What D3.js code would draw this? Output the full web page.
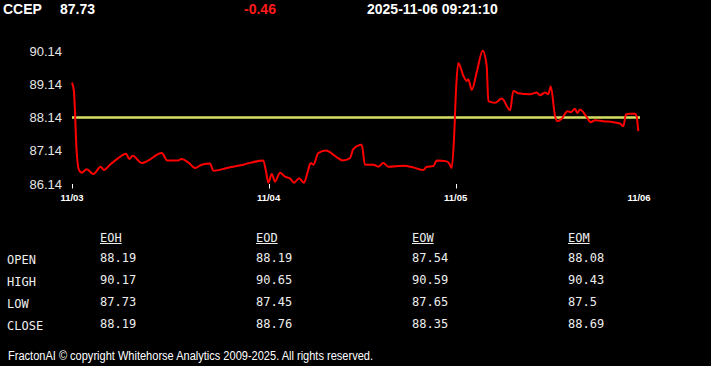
<!DOCTYPE html>
<html>
<head>
<meta charset="utf-8">
<script src="https://cdn.jsdelivr.net/npm/d3@7"></script>
<style>
  html, body { margin: 0; padding: 0; background: #000; }
  svg { display: block; }
</style>
</head>
<body>
<svg id="chart" width="711" height="366"></svg>
<script>
// ---- data ----
const symbol = "CCEP";
const lastPrice = "87.73";
const priceChange = "-0.46";
const timestamp = "2025-11-06 09:21:10";

// intraday sample index (0 = 11/03 open, 300 = latest) and price
const times = [0, 1, 2.5, 3.7, 5.1, 7.8, 11.3, 15.2, 16.9, 20.1, 24.5, 28.6, 30.3, 32.1, 36.9, 39.5,
  47.5, 50.4, 56.2, 58.0, 61.5, 65.1, 68.6, 73.0, 74.8, 81.9, 90.6, 101.2, 102.5, 103.9, 105.7,
  107.4, 110.1, 112.7, 115.3, 117.5, 120.1, 122.8, 124.5, 126.3, 127.7, 130.3, 134.4, 140.0,
  143.2, 147.1, 148.8, 153.3, 155.0, 159.4, 162.1, 164.7, 167.4, 175.3, 180.6, 185.9, 187.7,
  191.2, 193.0, 198.3, 199.6, 200.9, 202.1, 203.2, 204.4, 207.1, 208.8, 209.7, 211.5, 214.1,
  217.3, 219.4, 220.3, 223.8, 227.4, 231.8, 233.5, 236.2, 242.3, 245.9, 247.6, 250.3, 252.0,
  253.3, 255.6, 256.8, 259.1, 262.1, 263.9, 266.1, 267.4, 268.8, 272.0, 274.5, 276.7, 281.1,
  286.4, 289.9, 291.7, 293.1, 295.2, 297.9, 298.8, 299.6];
const prices = [89.19, 88.94, 87.08, 86.56, 86.48, 86.58, 86.44, 86.66, 86.56, 86.72, 86.92, 87.05,
  86.89, 86.99, 86.77, 86.82, 87.07, 86.85, 86.85, 86.89, 86.79, 86.62, 86.72, 86.76, 86.54,
  86.62, 86.72, 86.85, 86.56, 86.18, 86.44, 86.21, 86.48, 86.36, 86.31, 86.18, 86.31, 86.18,
  86.46, 86.77, 86.72, 87.07, 87.15, 86.95, 86.85, 86.92, 87.19, 87.32, 86.72, 86.72, 86.66,
  86.77, 86.66, 86.69, 86.64, 86.56, 86.66, 86.68, 86.85, 86.82, 86.75, 86.62, 87.47, 88.99,
  89.78, 89.39, 89.24, 89.29, 88.97, 89.49, 90.15, 89.69, 88.63, 88.58, 88.71, 88.36, 88.94,
  88.87, 88.84, 88.89, 88.81, 88.89, 88.84, 89.07, 88.18, 88.03, 88.10, 88.33, 88.30, 88.40,
  88.28, 88.38, 88.18, 88.00, 88.06, 88.03, 88.00, 87.96, 87.88, 88.23, 88.25, 88.25, 88.16, 87.73];
const refLevel = 88.14;

const yTicks = [86.14, 87.14, 88.14, 89.14, 90.14];
const dayTickPos = [0, 104, 203, 300];
const dayLabels = ["11/03", "11/04", "11/05", "11/06"];
const dayTickMarks = [0, 104, 203];

const periods = ["EOH", "EOD", "EOW", "EOM"];
const rowLabels = ["OPEN", "HIGH", "LOW", "CLOSE"];
const openVals  = ["88.19", "88.19", "87.54", "88.08"];
const highVals  = ["90.17", "90.65", "90.59", "90.43"];
const lowVals   = ["87.73", "87.45", "87.65", "87.5"];
const closeVals = ["88.19", "88.76", "88.35", "88.69"];

const footer = "FractonAI \u00A9 copyright Whitehorse Analytics 2009-2025. All rights reserved.";

// ---- drawing ----
const svg = d3.select("#chart");
svg.append("rect").attr("width", 711).attr("height", 366).attr("fill", "#000");

const headFont = "'Liberation Sans', Arial, sans-serif";
// header
svg.append("text").attr("x", 3).attr("y", 14).text(symbol)
  .attr("font-family", headFont).attr("font-weight", "bold").attr("font-size", 14).attr("fill", "#fff");
svg.append("text").attr("x", 60).attr("y", 14).text(lastPrice)
  .attr("font-family", headFont).attr("font-weight", "bold").attr("font-size", 14).attr("fill", "#fff");
svg.append("text").attr("x", 260).attr("y", 14).attr("text-anchor", "middle").text(priceChange)
  .attr("font-family", headFont).attr("font-weight", "bold").attr("font-size", 14).attr("fill", "#ff1a1a");
svg.append("text").attr("x", 367).attr("y", 14).text(timestamp)
  .attr("font-family", headFont).attr("font-weight", "bold").attr("font-size", 14).attr("fill", "#fff");

// scales
const x = d3.scaleLinear().domain([0, 300]).range([72, 639]);
const y = d3.scaleLinear().domain([86.14, 90.14]).range([184, 51]);

// y labels
svg.append("g").selectAll("text").data(yTicks).join("text")
  .attr("x", 62).attr("y", d => y(d)).attr("dy", "0.36em")
  .attr("text-anchor", "end")
  .attr("font-family", headFont).attr("font-size", 13).attr("fill", "#e6e6e6")
  .text(d => d.toFixed(2));

// x tick marks and labels
svg.append("g").selectAll("line").data(dayTickMarks).join("line")
  .attr("x1", d => Math.round(x(d)) + 0.5).attr("x2", d => Math.round(x(d)) + 0.5)
  .attr("y1", 184).attr("y2", 188.5)
  .attr("stroke", "#fff").attr("stroke-width", 1);
svg.append("g").selectAll("text").data(dayTickPos).join("text")
  .attr("x", d => x(d)).attr("y", 201)
  .attr("text-anchor", "middle")
  .attr("font-family", headFont).attr("font-size", 9.5).attr("font-weight", "bold").attr("fill", "#fff")
  .text((d, i) => dayLabels[i]);

// reference line
svg.append("line")
  .attr("x1", x(0)).attr("x2", x(300) + 1)
  .attr("y1", y(refLevel)).attr("y2", y(refLevel))
  .attr("stroke", "#d7e063").attr("stroke-width", 2.5);

// price line
const pts = times.map((t, i) => [t, prices[i]]);
svg.append("path").datum(pts)
  .attr("fill", "none").attr("stroke", "#ff0000").attr("stroke-width", 2)
  .attr("stroke-linejoin", "round")
  .attr("d", d3.line().x(d => x(d[0])).y(d => y(d[1])).curve(d3.curveMonotoneX));

// table
const monoFont = "'DejaVu Sans Mono', 'Liberation Mono', monospace";
const colX = d3.scalePoint().domain(periods).range([100, 568]);
const rowY = d3.scalePoint().domain(rowLabels).range([261.5, 327.5]);
const tableVals = [openVals, highVals, lowVals, closeVals];

const heads = svg.append("g").selectAll("g").data(periods).join("g");
heads.append("text")
  .attr("x", d => colX(d)).attr("y", 241.5)
  .attr("font-family", monoFont).attr("font-size", 12).attr("fill", "#eee")
  .text(d => d);
heads.append("line")
  .attr("x1", d => colX(d)).attr("x2", d => colX(d) + d.length * 7.22)
  .attr("y1", 243.5).attr("y2", 243.5)
  .attr("stroke", "#eee").attr("stroke-width", 1);

svg.append("g").selectAll("text").data(rowLabels).join("text")
  .attr("x", 7).attr("y", d => rowY(d) + 2.5)
  .attr("font-family", monoFont).attr("font-size", 12).attr("fill", "#eee")
  .text(d => d);

rowLabels.forEach((r, ri) => {
  svg.append("g").selectAll("text").data(periods).join("text")
    .attr("x", d => colX(d)).attr("y", rowY(r))
    .attr("font-family", monoFont).attr("font-size", 12).attr("fill", "#eee")
    .text((d, ci) => tableVals[ri][ci]);
});

// footer
svg.append("text").attr("x", 8).attr("y", 360)
  .attr("font-family", headFont).attr("font-size", 12).attr("fill", "#fff")
  .attr("textLength", 365).attr("lengthAdjust", "spacingAndGlyphs")
  .text(footer);
</script>
</body>
</html>
